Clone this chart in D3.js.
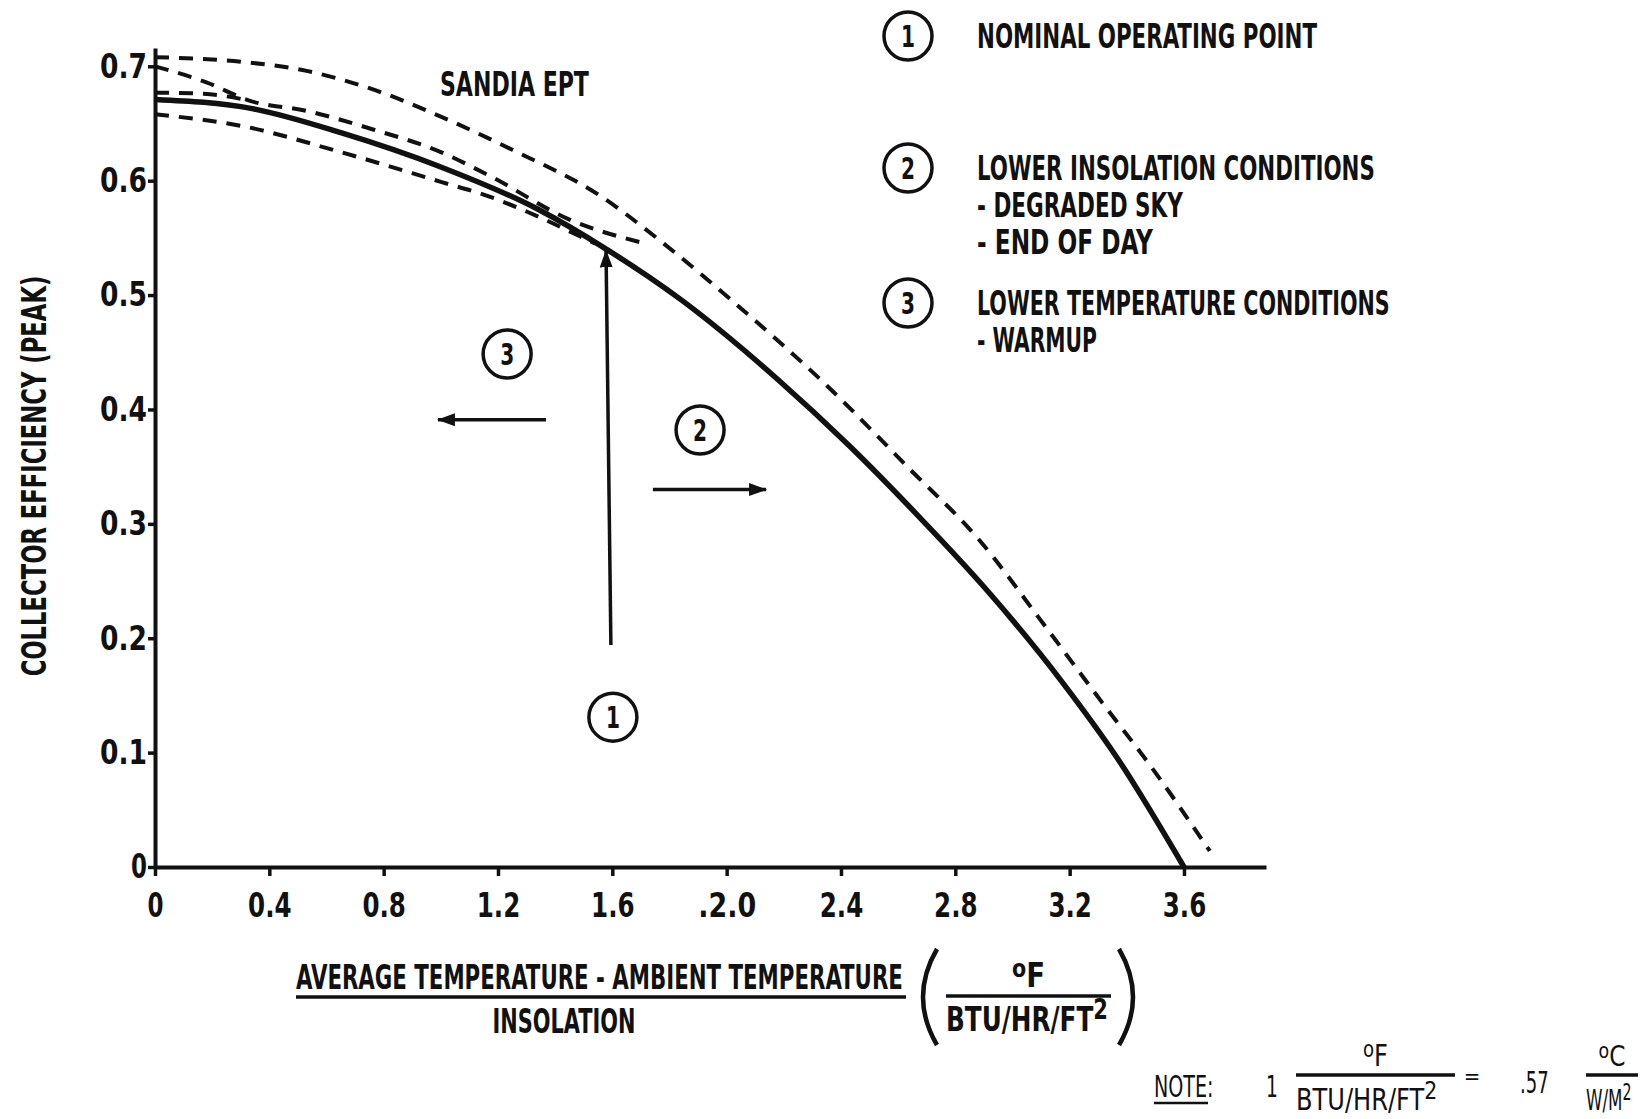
<!DOCTYPE html>
<html>
<head>
<meta charset="utf-8">
<script src="https://cdn.jsdelivr.net/npm/d3@7"></script>
<style>
  body { margin: 0; background: #fff; }
  svg { display: block; }
  text { font-family: 'DejaVu Sans Condensed', 'Liberation Sans Narrow', 'DejaVu Sans', sans-serif; font-stretch: condensed; font-weight: bold; fill: #111; }
</style>
</head>
<body>
<svg id="chart" width="1644" height="1119"></svg>
<script>
// tick values / labels as printed on the figure
const xTicks = [0, 0.4, 0.8, 1.2, 1.6, 2.0, 2.4, 2.8, 3.2, 3.6]
const xTickLabels = ["0", "0.4", "0.8", "1.2", "1.6", ".2.0", "2.4", "2.8", "3.2", "3.6"]
const yTicks = [0, 0.1, 0.2, 0.3, 0.4, 0.5, 0.6, 0.7]
const yTickLabels = ["0", "0.1", "0.2", "0.3", "0.4", "0.5", "0.6", "0.7"]

// solid curve (nominal)
const solidX = [0, 0.34, 0.65, 1.0, 1.34, 1.58, 1.84, 2.18, 2.43, 2.67, 2.90, 3.17, 3.37, 3.60]
const solidY = [0.671, 0.663, 0.642, 0.612, 0.575, 0.540, 0.496, 0.426, 0.368, 0.307, 0.245, 0.163, 0.094, 0.0]

// dashed curves
const dashUpperX = [0, 0.30, 0.53, 0.76, 1.0, 1.25, 1.55, 1.78, 2.01, 2.35, 2.64, 2.88, 3.11, 3.31, 3.49, 3.69]
const dashUpperY = [0.708, 0.704, 0.696, 0.680, 0.656, 0.627, 0.588, 0.545, 0.497, 0.421, 0.348, 0.287, 0.212, 0.145, 0.086, 0.014]
const dashMidX = [0, 0.18, 0.33, 0.53, 0.76, 1.0, 1.18, 1.45, 1.70]
const dashMidY = [0.700, 0.686, 0.670, 0.661, 0.645, 0.625, 0.603, 0.566, 0.546]
const dashFlatX = [0, 0.17, 0.33]
const dashFlatY = [0.677, 0.676, 0.670]
const dashLowerX = [0, 0.30, 0.65, 1.0, 1.16, 1.31, 1.49, 1.54]
const dashLowerY = [0.658, 0.648, 0.625, 0.599, 0.587, 0.572, 0.551, 0.545]

// annotations in data units
const circles = [
  {n: "1", x: 1.602, y: 0.131},
  {n: "2", x: 1.907, y: 0.382},
  {n: "3", x: 1.232, y: 0.4485}
]
const arrows = [
  {x1: 1.595, y1: 0.194, x2: 1.578, y2: 0.539},
  {x1: 1.368, y1: 0.391, x2: 0.990, y2: 0.391},
  {x1: 1.742, y1: 0.330, x2: 2.138, y2: 0.330}
]

const legendItems = [
  {n: "1", lines: ["NOMINAL OPERATING POINT"], widths: [340]},
  {n: "2", lines: ["LOWER INSOLATION CONDITIONS", "- DEGRADED SKY", "- END OF DAY"], widths: [398, 206, 176]},
  {n: "3", lines: ["LOWER TEMPERATURE CONDITIONS", "- WARMUP"], widths: [413, 120]}
]
const legendY = [36, 168, 303]

const svg = d3.select("#chart")
svg.append("rect").attr("width", 1644).attr("height", 1119).attr("fill", "#fff")

// squeeze a text horizontally to a given width (keeps its real box)
function fit(sel, w){
  sel.each(function(){
    const n = this.getComputedTextLength()
    const tw = typeof w === "function" ? w(this) : w
    const x0 = +(this.getAttribute("x") || 0)
    this.setAttribute("x", 0)
    this.setAttribute("transform", "translate(" + x0 + ",0) scale(" + (tw / n) + ",1)")
  })
  return sel
}

const x = d3.scaleLinear().domain([0, 3.887]).range([155, 1266])
const y = d3.scaleLinear().domain([0, 0.716]).range([867, 48])

svg.append("defs").append("marker")
  .attr("id", "head")
  .attr("viewBox", "0 -8 18 16")
  .attr("markerUnits", "userSpaceOnUse")
  .attr("markerWidth", 18).attr("markerHeight", 16)
  .attr("refX", 17).attr("refY", 0)
  .attr("orient", "auto")
  .append("path").attr("d", "M0,-6.5L18,0L0,6.5Z").attr("fill", "#111")

// axes
const xAxis = svg.append("g").attr("transform", "translate(0," + y(0) + ")")
  .call(d3.axisBottom(x).tickValues(xTicks).tickSize(9).tickSizeOuter(0).tickPadding(17)
    .tickFormat((d, i) => xTickLabels[i]))
const yAxis = svg.append("g").attr("transform", "translate(" + x(0) + ",0)")
  .call(d3.axisLeft(y).tickValues(yTicks).tickSize(7).tickSizeOuter(0).tickPadding(1)
    .tickFormat((d, i) => yTickLabels[i]))

;[xAxis, yAxis].forEach(function(g, k){
  g.select(".domain").attr("stroke", "#111").attr("stroke-width", 4)
  g.selectAll(".tick line").attr("stroke", "#111").attr("stroke-width", 3.5)
  const labels = g.selectAll(".tick text")
    .attr("font-size", 34).attr("fill", "#111")
    .attr("font-family", null)
  fit(labels, el => el.textContent.length == 1 ? 16 : (k == 0 ? el.textContent.length * 14.5 : 47))
})

// curves
const line = d3.line().x(d => x(d[0])).y(d => y(d[1])).curve(d3.curveMonotoneX)
function pts(xs, ys){ return xs.map((v, i) => [v, ys[i]]) }

const dashed = [
  pts(dashUpperX, dashUpperY),
  pts(dashMidX, dashMidY),
  pts(dashFlatX, dashFlatY),
  pts(dashLowerX, dashLowerY)
]
svg.append("g").selectAll("path")
  .data(dashed)
  .enter()
  .append("path")
  .attr("d", line)
  .attr("fill", "none")
  .attr("stroke", "#111")
  .attr("stroke-width", 4)
  .attr("stroke-dasharray", "14,10")

svg.append("path")
  .datum(pts(solidX, solidY))
  .attr("d", line)
  .attr("fill", "none")
  .attr("stroke", "#111")
  .attr("stroke-width", 5.5)
  .attr("stroke-linejoin", "round")

// annotations
fit(svg.append("text").attr("x", x(0.997)).attr("y", y(0.674))
  .attr("font-size", 33).text("SANDIA EPT"), 149)

svg.append("g").selectAll("line")
  .data(arrows)
  .enter()
  .append("line")
  .attr("x1", d => x(d.x1)).attr("y1", d => y(d.y1))
  .attr("x2", d => x(d.x2)).attr("y2", d => y(d.y2))
  .attr("stroke", "#111").attr("stroke-width", 3.5)
  .attr("marker-end", "url(#head)")

function numCircle(g, cx, cy, n){
  g.append("circle").attr("cx", cx).attr("cy", cy).attr("r", 24)
    .attr("fill", "none").attr("stroke", "#111").attr("stroke-width", 3.5)
  fit(g.append("text").attr("x", cx).attr("y", cy + 11).attr("text-anchor", "middle")
    .attr("font-size", 31).attr("font-weight", "normal").text(n), 14)
}
circles.forEach(c => numCircle(svg, x(c.x), y(c.y), c.n))

// legend
legendItems.forEach(function(item, i){
  numCircle(svg, 908, legendY[i], item.n)
  item.lines.forEach(function(t, j){
    fit(svg.append("text").attr("x", 977).attr("y", legendY[i] + 12 + j * 37)
      .attr("font-size", 33).text(t), item.widths[j])
  })
})

// y title
fit(svg.append("g").attr("transform", "translate(46,476) rotate(-90)")
  .append("text")
  .attr("text-anchor", "middle")
  .attr("font-size", 33)
  .text("COLLECTOR EFFICIENCY (PEAK)"), 401)

// x title as a fraction with units
const xt = svg.append("g")
fit(xt.append("text").attr("x", 296).attr("y", 989)
  .attr("font-size", 33).text("AVERAGE TEMPERATURE - AMBIENT TEMPERATURE"), 607)
xt.append("line").attr("x1", 296).attr("x2", 906).attr("y1", 997).attr("y2", 997)
  .attr("stroke", "#111").attr("stroke-width", 3.5)
fit(xt.append("text").attr("x", 564).attr("y", 1033).attr("text-anchor", "middle")
  .attr("font-size", 33).text("INSOLATION"), 143)
xt.append("path").attr("d", "M937,949 Q909,997 937,1045")
  .attr("fill", "none").attr("stroke", "#111").attr("stroke-width", 4.5)
xt.append("path").attr("d", "M1119,949 Q1147,997 1119,1045")
  .attr("fill", "none").attr("stroke", "#111").attr("stroke-width", 4.5)

function unitFraction(g, x1, x2, yBar, top, topWidth, bottom, sup, bottomWidth, size){
  const cx = (x1 + x2) / 2
  const t = g.append("text").attr("x", cx).attr("y", yBar - 9).attr("text-anchor", "middle").attr("font-size", size)
  t.append("tspan").attr("font-size", size * 0.75).attr("dy", -size * 0.3).text("o")
  t.append("tspan").attr("dy", size * 0.3).text(top)
  fit(t, topWidth)
  g.append("line").attr("x1", x1).attr("x2", x2).attr("y1", yBar).attr("y2", yBar)
    .attr("stroke", "#111").attr("stroke-width", 3.5)
  const b = g.append("text").attr("x", x1).attr("y", yBar + 35).attr("font-size", size)
  b.append("tspan").text(bottom)
  b.append("tspan").attr("font-size", size * 0.85).attr("dy", -size * 0.35).text(sup)
  fit(b, bottomWidth)
}
unitFraction(xt, 946, 1111, 996, "F", 33, "BTU/HR/FT", "2", 162, 33)

// note with conversion
const note = svg.append("g").style("font-weight", "normal")
note.selectAll("text").style("font-weight", "normal")
fit(note.append("text").attr("x", 1154).attr("y", 1097)
  .attr("font-size", 30).text("NOTE:"), 66)
note.append("line").attr("x1", 1154).attr("x2", 1208).attr("y1", 1103).attr("y2", 1103)
  .attr("stroke", "#111").attr("stroke-width", 2.5)
fit(note.append("text").attr("x", 1266).attr("y", 1097).attr("font-size", 30).text("1"), 13)
unitFraction(note, 1296, 1455, 1075, "F", 29, "BTU/HR/FT", "2", 158, 30)
note.append("text").attr("x", 1472).attr("y", 1084).attr("text-anchor", "middle").attr("font-size", 22).text("=")
fit(note.append("text").attr("x", 1520).attr("y", 1093).attr("font-size", 30).text(".57"), 32)
unitFraction(note, 1586, 1638, 1075, "C", 29, "W/M", "2", 51, 28)
note.selectAll("text").style("font-weight", "normal")
</script>
</body>
</html>
